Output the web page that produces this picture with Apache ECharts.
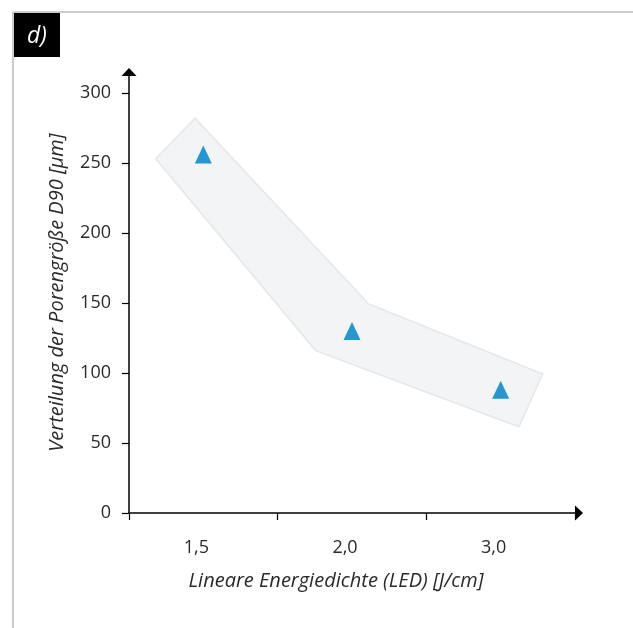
<!DOCTYPE html>
<html>
<head>
<meta charset="utf-8">
<script src="https://cdn.jsdelivr.net/npm/echarts@6/dist/echarts.min.js"></script>
<style>
html,body{margin:0;padding:0;background:#fff;}
#chart{width:633px;height:628px;}
</style>
</head>
<body>
<div id="chart"></div>
<script>
// Categories (LED, J/cm)
var categories = ['1,5', '2,0', '3,0'];
// D90 pore size distribution values (µm)
var d90Values = [256, 130, 88];
// Y tick labels
var yTicks = [0, 50, 100, 150, 200, 250, 300];
// Shaded trend band outline (category index, µm)
var bandX = [-0.056, -0.32, 0.756, 2.123, 2.282, 1.112];
var bandY = [282, 253, 116, 61.6, 99.3, 149.3];

var xTitle = 'Lineare Energiedichte (LED) [J/cm]';
var yTitle = 'Verteilung der Porengröße D90 [µm]';
var panelLabel = 'd)';

var bandPoints = bandX.map(function (x, i) { return [x, bandY[i]]; });

var font = '"Open Sans", "Noto Sans", sans-serif';
var chart = echarts.init(document.getElementById('chart'), null, {renderer: 'canvas'});
chart.setOption({
  animation: false,
  backgroundColor: '#ffffff',
  grid: {left: 129, right: 58, top: 72, bottom: 115, containLabel: false},
  xAxis: [{
    type: 'category',
    data: categories,
    boundaryGap: true,
    axisLine: {show: true, lineStyle: {color: '#000', width: 1.5}, symbol: ['none', 'triangle'], symbolSize: [15, 8], symbolOffset: [0, 4]},
    axisTick: {show: true, length: 7, lineStyle: {color: '#000', width: 1.2}},
    axisLabel: {color: '#2a2a2a', fontSize: 18, fontFamily: font, margin: 26, padding: [0, 14, 0, 0]},
    splitLine: {show: false},
    name: xTitle,
    nameLocation: 'middle',
    nameGap: 58,
    nameTextStyle: {color: '#2a2a2a', fontSize: 20, fontStyle: 'italic', fontFamily: font, padding: [0, 32, 0, 0]}
  }, {
    type: 'value',
    min: -0.5,
    max: 2.5,
    show: false
  }],
  yAxis: {
    type: 'value',
    min: 0,
    max: 315,
    interval: 50,
    axisLine: {show: true, onZero: false, lineStyle: {color: '#000', width: 1.5}, symbol: ['none', 'triangle'], symbolSize: [15, 8]},
    axisTick: {show: true, length: 7, lineStyle: {color: '#000', width: 1.2}, customValues: yTicks},
    axisLabel: {color: '#2a2a2a', fontSize: 18, fontFamily: font, margin: 18, customValues: yTicks},
    splitLine: {show: false},
    name: yTitle,
    nameLocation: 'middle',
    nameGap: 62,
    nameTextStyle: {color: '#2a2a2a', fontSize: 20, fontStyle: 'italic', fontFamily: font}
  },
  series: [{
    type: 'custom',
    xAxisIndex: 1,
    silent: true,
    z: 1,
    data: [0],
    renderItem: function (params, api) {
      var pts = bandPoints.map(function (p) { return api.coord(p); });
      return {
        type: 'polygon',
        shape: {points: pts},
        style: {fill: '#f3f4f6', stroke: '#e5e7e9', lineWidth: 1.5}
      };
    }
  }, {
    type: 'scatter',
    xAxisIndex: 0,
    data: d90Values,
    symbol: 'triangle',
    symbolSize: [17, 18],
    itemStyle: {color: '#2596d1', opacity: 1},
    z: 3
  }],
  graphic: [
    {type: 'line', shape: {x1: 13, y1: 12, x2: 633, y2: 12}, style: {stroke: '#cccccc', lineWidth: 2}},
    {type: 'line', shape: {x1: 13, y1: 12, x2: 13, y2: 628}, style: {stroke: '#cccccc', lineWidth: 2}},
    {type: 'rect', shape: {x: 14, y: 13, width: 46, height: 44}, style: {fill: '#000000'}},
    {type: 'text', x: 37, y: 36, style: {text: panelLabel, fill: '#ffffff', font: 'italic 23px "Open Sans", "Noto Sans", sans-serif', textAlign: 'center', textVerticalAlign: 'middle'}}
  ]
});
</script>
</body>
</html>
